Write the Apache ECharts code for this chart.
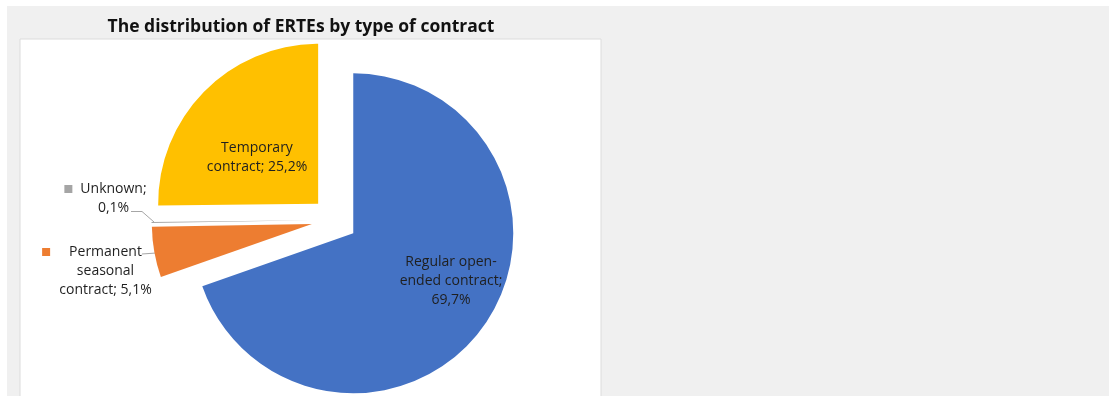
<!DOCTYPE html>
<html>
<head>
<meta charset="utf-8">
<script src="https://cdn.jsdelivr.net/npm/echarts@6/dist/echarts.min.js"></script>
<style>
  html, body { margin: 0; padding: 0; background: #ffffff; }
  #chart { width: 1109px; height: 396px; }
</style>
</head>
<body>
<div id="chart"></div>
<script>
// Shares of ERTEs by contract type (percent), drawn clockwise from 12 o'clock
const categories = ['Regular open-ended contract', 'Permanent seasonal contract', 'Unknown', 'Temporary contract'];
const shares = [69.7, 5.1, 0.1, 25.2];
const sliceColors = ['#4472C4', '#ED7D31', '#A5A5A5', '#FFC000'];
// Label wording per slice; {v} is replaced by the share with a decimal comma
const labelTemplates = [
  'Regular open-\nended contract;\n{v}',
  'Permanent\nseasonal\ncontract; {v}',
  'Unknown;\n{v}',
  'Temporary\ncontract; {v}'
];
const titleText = 'The distribution of ERTEs by type of contract';

// Label placement (centre of each text block) and leader lines for the outside labels
const labelAnchors = [[451, 281], [105.5, 271], [113.5, 198.5], [257, 157.5]];
const leaderLines = [null, [[142, 254], [149, 253.5], [156, 253]], [[131, 211.5], [142, 211.5], [154, 222]], null];
// Gap between the legend key square and the first text line of outside labels
const keyGaps = [0, 19, 8, 0];

const PIE_CENTER = [334.5, 220];
const PIE_RADIUS = 160;

const fmt = v => v.toFixed(1).replace('.', ',') + '%';

function labelText(i) {
  const lines = labelTemplates[i].replace('{v}', fmt(shares[i])).split('\n');
  if (!leaderLines[i]) return lines.join('\n');
  // outside labels carry a small colour key in front of the first line,
  // balanced by an invisible spacer so the words stay centred
  const g = '{g' + i + '|}';
  const first = '{k' + i + '|}' + g + lines[0] + g + '{s|}';
  return [first].concat(lines.slice(1)).join('\n');
}

const rich = { s: { width: 8, height: 8 } };
categories.forEach((c, i) => {
  rich['k' + i] = { width: 8, height: 8, backgroundColor: sliceColors[i] };
  rich['g' + i] = { width: keyGaps[i] };
});

const chart = echarts.init(document.getElementById('chart'), null, { renderer: 'canvas' });

chart.setOption({
  animation: false,
  backgroundColor: '#ffffff',
  title: {
    text: titleText,
    left: 296,
    top: 13,
    textAlign: 'center',
    textStyle: {
      fontFamily: 'Open Sans',
      fontWeight: 'bold',
      fontSize: 17.5,
      color: '#111111'
    }
  },
  graphic: [
    { type: 'rect', z: -10, shape: { x: 7, y: 6, width: 1102, height: 390 }, style: { fill: '#f0f0f0' } },
    { type: 'rect', z: -9, shape: { x: 20, y: 39, width: 581, height: 360 }, style: { fill: '#ffffff', stroke: '#dcdcdc', lineWidth: 1 } }
  ],
  series: [
    // the exploded slices
    {
      type: 'pie',
      center: PIE_CENTER,
      radius: [0, PIE_RADIUS],
      startAngle: 90,
      clockwise: true,
      selectedMode: 'multiple',
      selectedOffset: 23,
      padAngle: 0,
      silent: true,
      itemStyle: { borderWidth: 0 },
      select: { itemStyle: { borderWidth: 0 } },
      emphasis: { disabled: true },
      label: { show: false },
      labelLine: { show: false },
      data: categories.map((name, i) => ({
        name: name,
        value: shares[i],
        selected: true,
        itemStyle: { color: sliceColors[i] }
      }))
    },
    // data labels, laid over the same angles
    {
      type: 'pie',
      center: PIE_CENTER,
      radius: [0, PIE_RADIUS],
      startAngle: 90,
      clockwise: true,
      selectedMode: false,
      silent: true,
      avoidLabelOverlap: false,
      itemStyle: { color: 'rgba(0,0,0,0)', borderWidth: 0 },
      emphasis: { disabled: true },
      label: {
        show: true,
        position: 'outside',
        fontFamily: 'Open Sans',
        fontSize: 14,
        lineHeight: 19,
        color: '#1f1f1f',
        align: 'center',
        rich: rich,
        formatter: p => labelText(p.dataIndex)
      },
      labelLine: { show: true, lineStyle: { color: '#a6a6a6', width: 1 } },
      labelLayout: function (params) {
        const i = params.dataIndex;
        const out = {
          x: labelAnchors[i][0],
          y: labelAnchors[i][1],
          align: 'center',
          verticalAlign: 'middle'
        };
        if (leaderLines[i]) out.labelLinePoints = leaderLines[i];
        return out;
      },
      data: categories.map((name, i) => ({
        name: name,
        value: shares[i],
        labelLine: { show: !!leaderLines[i] }
      }))
    }
  ]
});
</script>
</body>
</html>
